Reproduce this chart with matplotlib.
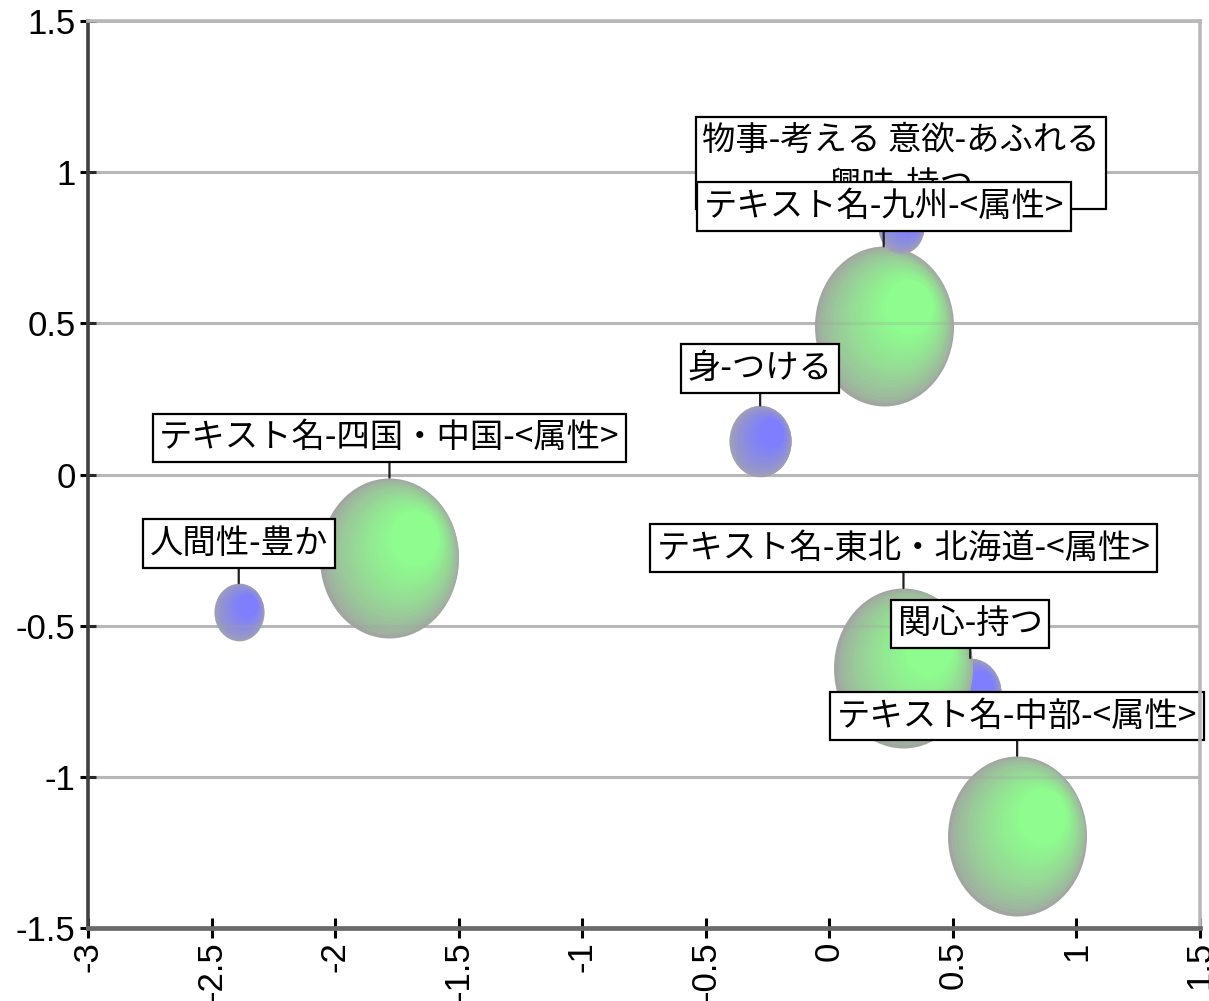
import numpy as np
import matplotlib
matplotlib.use("Agg")
import matplotlib.pyplot as plt
from matplotlib.path import Path
from matplotlib.transforms import Affine2D, offset_copy

# data
green_labels = ["テキスト名-四国・中国-<属性>", "テキスト名-九州-<属性>",
                "テキスト名-東北・北海道-<属性>", "テキスト名-中部-<属性>"]
green_x = [-1.78, 0.22, 0.30, 0.76]
green_y = [-0.275, 0.49, -0.64, -1.195]
green_size = [100, 100, 100, 100]

blue_labels = ["人間性-豊か", "身-つける", "物事-考える 意欲-あふれる\n興味-持つ", "関心-持つ"]
blue_x = [-2.39, -0.28, 0.29, 0.57]
blue_y = [-0.455, 0.11, 0.82, -0.725]
blue_size = [13, 20, 11, 20]

x_ticks = [-3, -2.5, -2, -1.5, -1, -0.5, 0, 0.5, 1, 1.5]
y_ticks = [-1.5, -1, -0.5, 0, 0.5, 1, 1.5]

JP = ["Noto Sans CJK JP", "DejaVu Sans"]
SIZE_SCALE = 132.7      # size value -> marker area (pt^2)
ASPECT = 139 / 160      # bubbles are a bit taller than wide in the picture

fig = plt.figure(figsize=(12.09, 10.01), dpi=100)
ax = fig.add_axes([88 / 1209, 1 - 928 / 1001, 1112 / 1209, 907 / 1001])
ax.set_xlim(-3, 1.5)
ax.set_ylim(-1.5, 1.5)

ell = Path.unit_circle().transformed(Affine2D().scale(ASPECT, 1.0))


def draw_bubble(x, y, size, bright, shade, z):
    h = np.sqrt(size * SIZE_SCALE)
    bright = np.array(bright) / 255
    shade = np.array(shade) / 255
    n = 28
    for i, t in enumerate(np.linspace(0, 1, n)):
        f = 1 - 0.8 * t
        dx = t * 0.44 * h / 2 * ASPECT
        dy = t * 0.30 * h / 2
        tr = offset_copy(ax.transData, fig=fig, x=dx, y=dy, units="points")
        c = shade + (bright - shade) * min(1, t ** 0.7 * 1.15)
        ax.scatter([x], [y], s=(h * f) ** 2, marker=ell, color=c, lw=0,
                   transform=tr, zorder=z + i * 0.001)
    return h


def draw_label(x, y, h, text, gap, z):
    off = h / 2 + gap
    ax.annotate(text, xy=(x, y), xytext=(0, off), textcoords="offset points",
                ha="center", va="bottom", fontsize=24, family=JP,
                linespacing=1.35, zorder=z,
                bbox=dict(boxstyle="square,pad=0.2", fc="white", ec="black", lw=1.6),
                arrowprops=None if gap < 0 else dict(arrowstyle="-", color="#202020", lw=1.6,
                                                     shrinkA=0, shrinkB=h / 2))


GREEN = (142, 252, 142)
GREEN_SH = (162, 166, 162)
BLUE = (126, 126, 255)
BLUE_SH = (160, 160, 182)

hb = [0] * 4
hg = [0] * 4
# 関心-持つ sits under the 東北 bubble, the others on top
hb[3] = draw_bubble(blue_x[3], blue_y[3], blue_size[3], BLUE, BLUE_SH, 2)
for i in range(4):
    hg[i] = draw_bubble(green_x[i], green_y[i], green_size[i], GREEN, GREEN_SH, 3)
for i in range(3):
    hb[i] = draw_bubble(blue_x[i], blue_y[i], blue_size[i], BLUE, BLUE_SH, 4)

# faint gridlines showing through the bubbles
for yv in y_ticks[1:-1]:
    ax.axhline(yv, color="#a0a0a0", lw=2.2, alpha=0.25, zorder=5)

blue_gap = [16, 14, -2, 12]
for i in range(4):
    draw_label(blue_x[i], blue_y[i], hb[i], blue_labels[i], blue_gap[i], 6)
for i in range(4):
    draw_label(green_x[i], green_y[i], hg[i], green_labels[i], 16, 7)

ax.set_xticks(x_ticks)
ax.set_yticks(y_ticks)
ax.set_xticklabels([f"{v:g}" for v in x_ticks], rotation=90, va="top", ha="center",
                   fontsize=25, family="Liberation Sans")
ax.set_yticklabels([f"{v:g}" for v in y_ticks], fontsize=25, family="Liberation Sans")
ax.tick_params(axis="x", direction="inout", length=15, width=2.2, color="black", pad=2)
ax.tick_params(axis="y", direction="inout", length=12, width=2.2, color="black", pad=3)

ax.grid(axis="y", color="#c0c0c0", lw=2.2, zorder=0)
ax.grid(axis="x", visible=False)
ax.set_axisbelow(True)

ax.spines["left"].set_color("#404040")
ax.spines["left"].set_linewidth(2.6)
ax.spines["bottom"].set_color("#6a6a6a")
ax.spines["bottom"].set_linewidth(3.4)
ax.spines["top"].set_color("#b8b8b8")
ax.spines["top"].set_linewidth(2.6)
ax.spines["right"].set_color("#b8b8b8")
ax.spines["right"].set_linewidth(2.6)
for s in ax.spines.values():
    s.set_zorder(8)

fig.savefig("out.png", dpi=100)
